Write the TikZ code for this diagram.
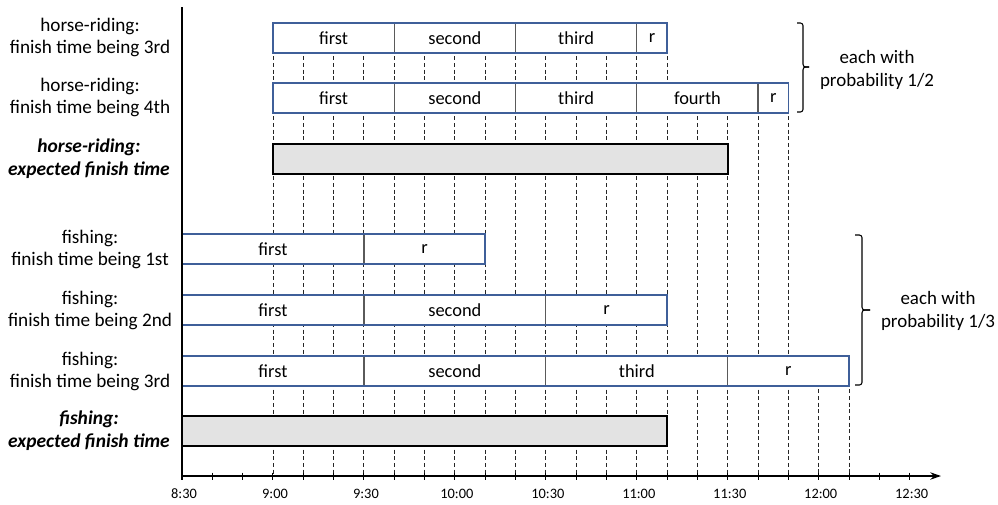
\documentclass[tikz,border=0pt]{standalone}
\usepackage{fontspec}
\setmainfont{Carlito}
\usetikzlibrary{arrows.meta,calc}
\definecolor{boxblue}{HTML}{3F5F99}
\definecolor{divgray}{HTML}{5A5A5A}
\definecolor{fillgray}{HTML}{E3E3E3}
\newcommand\tx[1]{182+30.32*#1}
\newcommand\segbox[5]{%
  \draw[seg] ({\tx{#2}},#4) rectangle ({\tx{#3}},#4+30);
  \node[segtext] (#1) at ({(\tx{#2}+\tx{#3})/2},#4+15) {#5};
}
\begin{document}
\begin{tikzpicture}[x=0.75pt,y=-0.75pt,
  grid/.style={draw=black!85, line width=0.65pt, dash pattern=on 3pt off 2pt},
  seg/.style={draw=divgray, line width=0.9pt, fill=white},
  outer/.style={draw=boxblue, line width=1.1pt},
  segtext/.style={font=\fontsize{13.8}{16}\selectfont, inner sep=0pt},
  lab/.style={font=\fontsize{14.4}{16.5}\selectfont, align=center, inner sep=0pt},
  blab/.style={font=\fontsize{14.6}{17.5}\selectfont\bfseries\itshape, align=center, inner sep=0pt},
  plab/.style={font=\fontsize{14.2}{17.5}\selectfont, align=center, inner sep=0pt},
  tlab/.style={font=\fontsize{10.8}{12}\selectfont, inner sep=0pt},
  expbox/.style={draw=black, line width=1.1pt, fill=fillgray},
  brace/.style={line width=0.8pt, rounded corners=2pt},
]
\useasboundingbox (0,0) rectangle (998,504);

% dashed grid
\foreach \k in {3,...,16} \draw[grid] ({\tx{\k}},23) -- ({\tx{\k}},476);
\foreach \k in {17,...,20} \draw[grid] ({\tx{\k}},83) -- ({\tx{\k}},476);
\foreach \k in {21,22} \draw[grid] ({\tx{\k}},356) -- ({\tx{\k}},476);

% horse-riding 3rd
\segbox{h3a}{3}{7}{23}{first}
\segbox{h3b}{7}{11}{23}{second}
\segbox{h3c}{11}{15}{23}{third}
\segbox{h3r}{15}{16}{23}{r}
\draw[outer] ({\tx{3}},23) rectangle ({\tx{16}},53);
% horse-riding 4th
\segbox{h4a}{3}{7}{83}{first}
\segbox{h4b}{7}{11}{83}{second}
\segbox{h4c}{11}{15}{83}{third}
\segbox{h4d}{15}{19}{83}{fourth}
\segbox{h4r}{19}{20}{83}{r}
\draw[outer] ({\tx{3}},83) rectangle ({\tx{20}},113);
% horse expected
\draw[expbox] ({\tx{3}},144) rectangle ({\tx{18}},174);

% fishing 1st
\segbox{f1a}{0}{6}{234}{first}
\segbox{f1r}{6}{10}{234}{r}
\draw[outer] ({\tx{0}},234) rectangle ({\tx{10}},264);
% fishing 2nd
\segbox{f2a}{0}{6}{295}{first}
\segbox{f2b}{6}{12}{295}{second}
\segbox{f2r}{12}{16}{295}{r}
\draw[outer] ({\tx{0}},295) rectangle ({\tx{16}},325);
% fishing 3rd
\segbox{f3a}{0}{6}{356}{first}
\segbox{f3b}{6}{12}{356}{second}
\segbox{f3c}{12}{18}{356}{third}
\segbox{f3r}{18}{22}{356}{r}
\draw[outer] ({\tx{0}},356) rectangle ({\tx{22}},386);
% fishing expected
\draw[expbox] ({\tx{0}},416) rectangle ({\tx{16}},446);

% left labels
\node[lab] (l1) at (90,37.5) {horse-riding:\\finish time being 3rd};
\node[lab] (l2) at (90,97.5) {horse-riding:\\finish time being 4th};
\node[blab] (l3) at (89,158.5) {horse-riding:\\expected finish time};
\node[lab] (l4) at (90,249) {fishing:\\finish time being 1st};
\node[lab] (l5) at (90,310) {fishing:\\finish time being 2nd};
\node[lab] (l6) at (90,371) {fishing:\\finish time being 3rd};
\node[blab] (l7) at (89,431) {fishing:\\expected finish time};

% braces
\draw[brace] (797,23) -- (803,23) -- (803,67) -- (809,67);
\draw[brace] (809,67) -- (803,67) -- (803,112) -- (797,112);
\node[plab] (p1) at (877,70) {each with\\probability 1/2};
\draw[brace] (855,235) -- (862,235) -- (862,310) -- (870,310);
\draw[brace] (870,310) -- (862,310) -- (862,385) -- (855,385);
\node[plab] (p2) at (938,311) {each with\\probability 1/3};

% axes
\coordinate (o) at (182,476);
\coordinate (ytop) at (182,7);
\coordinate (xend) at (941,476);
\draw[line width=1.1pt] (ytop) -- (o);
\draw[line width=1.1pt, -{Stealth[length=8pt,width=5.5pt]}] (o) -- (xend);
\foreach \k in {0,...,24} \draw[line width=0.8pt] ({\tx{\k}},472.5) -- ({\tx{\k}},479.5);
\foreach \k/\t in {0/8:30,1/9:00,2/9:30,3/10:00,4/10:30,5/11:00,6/11:30,7/12:00,8/12:30}
  \node[tlab] (t\k) at ({\tx{3*\k}+2},494) {\t};
\end{tikzpicture}
\end{document}
